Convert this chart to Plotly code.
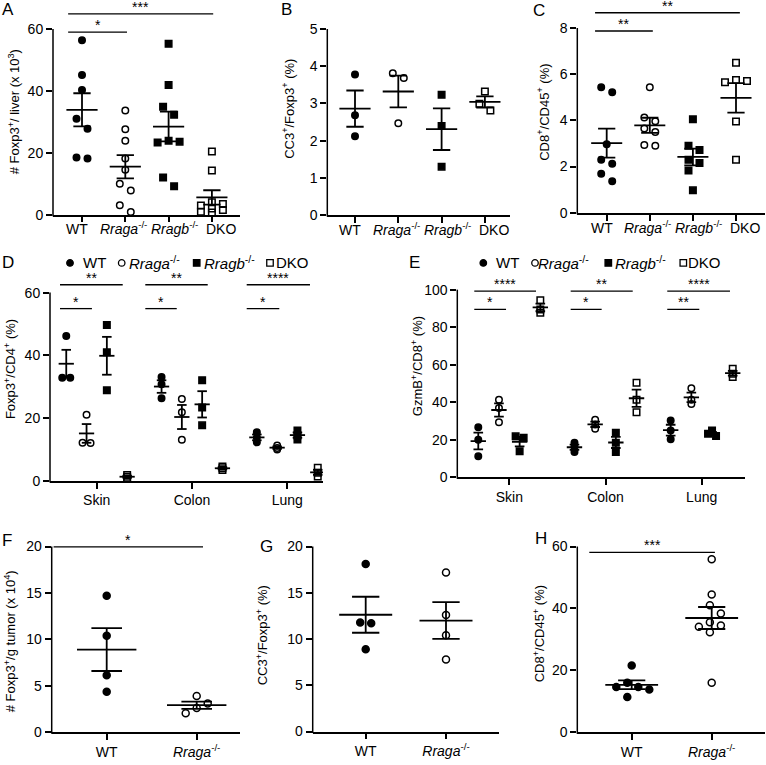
import numpy as np
import plotly.graph_objects as go

W, H = 766, 765
FONT = "Liberation Sans, Arial, sans-serif"

# ---------------- data ----------------
genotypes = ["WT", "Rraga-/-", "Rragb-/-", "DKO"]
geno_ticks = ["WT", "<i>Rraga</i><sup>-/-</sup>", "<i>Rragb</i><sup>-/-</sup>", "DKO"]
two_ticks = ["WT", "<i>Rraga</i><sup>-/-</sup>"]
tissues = ["Skin", "Colon", "Lung"]

# A: # Foxp3+ / liver (x10^3)
a_wt = [56.4, 45.1, 40.3, 31.0, 27.8, 18.5, 18.2]
a_rraga = [33.7, 27.6, 23.9, 18.2, 14.5, 10.0, 7.8, 3.1, 0.9]
a_rragb = [55.2, 41.9, 34.9, 32.3, 23.9, 23.6, 23.3, 12.0, 9.2]
a_dko = [20.4, 14.3, 4.0, 3.5, 3.0, 2.0, 1.5, 1.0, 0.7]
# B: CC3+/Foxp3+ (%)
b_wt = [3.78, 2.68, 2.12]
b_rraga = [3.81, 3.68, 2.47]
b_rragb = [3.23, 2.39, 1.30]
b_dko = [3.32, 2.99, 2.81]
# C: CD8+/CD45+ (%)
c_wt = [5.44, 5.22, 2.97, 2.29, 2.12, 1.69, 1.36]
c_rraga = [5.44, 4.12, 3.96, 3.65, 3.50, 2.93, 2.90]
c_rragb = [4.05, 2.90, 2.72, 2.29, 2.15, 1.83, 0.97]
c_dko = [6.50, 5.75, 5.70, 5.65, 3.95, 2.30]
# D: Foxp3+/CD4+ (%) per tissue (Skin, Colon, Lung)
d_wt = [[46.2, 32.9, 32.9], [33.1, 30.8, 26.3], [15.5, 13.8, 12.3]]
d_rraga = [[21.1, 12.2, 12.1], [26.1, 21.9, 13.1], [11.3, 10.5, 10.0]]
d_rragb = [[49.7, 41.0, 28.9], [32.1, 23.4, 17.7], [16.1, 14.5, 13.2]]
d_dko = [[1.9, 1.3, 0.8], [4.6, 4.0, 3.5], [4.2, 2.6, 1.4]]
# E: GzmB+/CD8+ (%)
e_wt = [[26.7, 20.0, 11.2], [18.4, 16.1, 13.5], [30.2, 24.9, 20.2]]
e_rraga = [[41.3, 36.9, 29.3], [30.7, 28.1, 25.8], [47.5, 41.3, 39.0]]
e_rragb = [[21.8, 21.1, 13.9], [23.7, 18.4, 13.5], [24.9, 23.2, 22.0]]
e_dko = [[94.4, 89.4, 87.7], [50.4, 41.3, 34.6], [57.8, 55.2, 53.4]]
# F: # Foxp3+/g tumor (x10^4)
f_wt = [14.7, 10.4, 6.15, 4.37]
f_rraga = [3.9, 3.09, 2.6, 2.06]
# G: CC3+/Foxp3+ (%)
g_wt = [18.1, 11.8, 11.7, 8.9]
g_rraga = [17.2, 12.6, 10.4, 7.8]
# H: CD8+/CD45+ (%)
h_wt = [21.6, 16.0, 14.6, 14.6, 13.8, 11.4]
h_rraga = [55.9, 44.5, 41.0, 38.4, 35.5, 34.5, 34.1, 32.3, 16.0]

# significance brackets: (x_start, x_end, y, label) in data units
sig_a = [(-0.32, 3.03, 64.9, "***"), (-0.32, 1.04, 59.0, "*")]
sig_c = [(-0.27, 3.09, 8.66, "**"), (-0.27, 1.07, 7.87, "**")]
sig_d = [(-0.385, 0.273, 62.5, "**"), (-0.385, -0.05, 54.9, "*"),
         (0.51, 1.165, 62.5, "**"), (0.51, 0.84, 54.9, "*"),
         (1.574, 2.238, 62.5, "****"), (1.574, 1.916, 54.9, "*")]
sig_e = [(-0.364, 0.278, 99.2, "****"), (-0.364, -0.034, 89.5, "*"),
         (0.638, 1.283, 99.2, "**"), (0.638, 0.96, 89.5, "*"),
         (1.642, 2.294, 99.2, "****"), (1.642, 1.975, 89.5, "**")]
sig_f = [(-0.59, 1.07, 19.96, "*")]
sig_h = [(-0.53, 1.04, 58.1, "***")]

SYMS = ["circle", "circle-open", "square", "square-open"]

# ---------------- layout geometry (pixels) ----------------
geoms = {
    "A": dict(left=53, right=240, y0=217, ytop=29.3, yval=60, dtop=4, cat0=82, sp=43.3),
    "B": dict(left=327.3, right=510, y0=217.3, ytop=29.3, yval=5, dtop=4, cat0=355, sp=43.3),
    "C": dict(left=577.3, right=765, y0=215, ytop=28.3, yval=8, dtop=4, cat0=606.7, sp=43.1),
    "D": dict(left=50, right=323, y0=486, ytop=295.7, yval=60, dtop=278, cat0=96.7, sp=95.3),
    "E": dict(left=457.3, right=745, y0=482.3, ytop=292.7, yval=100, dtop=278, cat0=509.3, sp=96.2),
    "F": dict(left=51.7, right=240, y0=740, ytop=552.3, yval=20, dtop=538, cat0=106.7, sp=90),
    "G": dict(left=312.7, right=499.3, y0=739.3, ytop=552.3, yval=20, dtop=538, cat0=365.7, sp=80.3),
    "H": dict(left=577.3, right=765, y0=740, ytop=552.3, yval=60, dtop=538, cat0=631.7, sp=80),
}
LABEL_SHIFT = [-5, -2, 6, 9]  # px nudges of crowded genotype labels (A-C)


def swarm(vals, ppu_y, ppu_x, dcoll, step, maxk):
    v = np.asarray(vals, float)
    order = np.argsort(-v, kind="stable")
    ys = v * ppu_y
    xs = np.zeros(len(v))
    placed = []
    cands = [0]
    for k in range(1, maxk + 1):
        cands += [k, -k]
    for i in order:
        best, bestd = 0.0, -1.0
        for k in cands:
            x = k * step
            d = min([np.hypot(x - xs[j], ys[i] - ys[j]) for j in placed], default=np.inf)
            if d >= dcoll:
                best = x
                break
            if d > bestd:
                best, bestd = x, d
        xs[i] = best
        placed.append(i)
    clusters, cur = [], [order[0]]
    for a, b in zip(order[:-1], order[1:]):
        if ys[a] - ys[b] < dcoll:
            cur.append(b)
        else:
            clusters.append(cur)
            cur = [b]
    clusters.append(cur)
    for c in clusters:
        xs[c] -= xs[c].mean()
    return xs / ppu_x


fig = go.Figure()
layout = dict(width=W, height=H, margin=dict(l=0, r=0, t=0, b=0),
              paper_bgcolor="white", plot_bgcolor="rgba(0,0,0,0)", showlegend=False,
              font=dict(family=FONT, color="black"))
shapes, annotations = [], []


def setup(n, key, tickvals, ticktext, ytickvals, label_annot=False):
    g = geoms[key]
    ppu = (g["y0"] - g["ytop"]) / g["yval"]
    xr = [(g["left"] - g["cat0"]) / g["sp"], (g["right"] - g["cat0"]) / g["sp"]]
    yr = [0, (g["y0"] - g["dtop"]) / ppu]
    xn = "xaxis" if n == 1 else f"xaxis{n}"
    yn = "yaxis" if n == 1 else f"yaxis{n}"
    xref = "x" if n == 1 else f"x{n}"
    yref = "y" if n == 1 else f"y{n}"
    layout[xn] = dict(domain=[g["left"] / W, g["right"] / W], range=xr, anchor=yref,
                      showline=True, linewidth=1.5, linecolor="black", ticks="outside",
                      ticklen=6, tickwidth=1.5, tickcolor="black", tickvals=tickvals,
                      ticktext=[""] * len(tickvals) if label_annot else ticktext,
                      showgrid=False, zeroline=False, tickangle=0,
                      tickfont=dict(size=14, color="black", family=FONT))
    layout[yn] = dict(domain=[1 - g["y0"] / H, 1 - g["dtop"] / H], range=yr, anchor=xref,
                      showline=False, ticks="outside", ticklen=6, tickwidth=1.5,
                      tickcolor="black", tickvals=ytickvals, showgrid=False, zeroline=False,
                      tickfont=dict(size=14, color="black", family=FONT))
    shapes.append(dict(type="line", xref="paper", yref="paper",
                       x0=g["left"] / W, x1=g["left"] / W,
                       y0=1 - (g["y0"] + 1.5) / H, y1=1 - g["ytop"] / H,
                       line=dict(color="black", width=1.5)))
    if label_annot:
        for i, (tv, tt) in enumerate(zip(tickvals, ticktext)):
            xp = g["cat0"] + tv * g["sp"] + LABEL_SHIFT[i]
            annotations.append(dict(xref="paper", yref="paper", x=xp / W,
                                    y=1 - (g["y0"] + 24) / H, text=tt, showarrow=False,
                                    xanchor="center", yanchor="bottom", borderpad=0,
                                    font=dict(size=14, color="black", family=FONT)))
    return xref, yref, ppu, g["sp"]


def add_groups(xref, yref, ppu, sp, groups, hw_mean, hw_cap, dcoll, step, maxk, msize):
    lx, ly = [], []
    for x, vals, sym in groups:
        off = swarm(vals, ppu, sp, dcoll, step, maxk)
        fig.add_trace(go.Scatter(
            x=x + off, y=vals, mode="markers", xaxis=xref, yaxis=yref, cliponaxis=False,
            marker=dict(symbol=sym, size=msize, color="black", line=dict(color="black", width=1.5)),
            hoverinfo="skip"))
        v = np.asarray(vals, float)
        m = v.mean()
        s = v.std(ddof=1) / np.sqrt(len(v))
        lx += [x - hw_mean, x + hw_mean, None, x - hw_cap, x + hw_cap, None,
               x - hw_cap, x + hw_cap, None, x, x, None]
        ly += [m, m, None, m + s, m + s, None, m - s, m - s, None, m - s, m + s, None]
    fig.add_trace(go.Scatter(x=lx, y=ly, mode="lines", xaxis=xref, yaxis=yref,
                             line=dict(color="black", width=1.8), hoverinfo="skip",
                             cliponaxis=False))


def add_sig(xref, yref, sigs):
    for x0, x1, y, lab in sigs:
        shapes.append(dict(type="line", xref=xref, yref=yref, x0=x0, x1=x1, y0=y, y1=y,
                           line=dict(color="black", width=1.3)))
        annotations.append(dict(xref=xref, yref=yref, x=(x0 + x1) / 2, y=y, text=lab,
                                showarrow=False, yanchor="bottom", yshift=-3,
                                font=dict(size=14, color="black", family=FONT)))


# ---- A, B, C ----
for n, key, data, sig, yt in [
    (1, "A", [a_wt, a_rraga, a_rragb, a_dko], sig_a, [0, 20, 40, 60]),
    (2, "B", [b_wt, b_rraga, b_rragb, b_dko], [], [0, 1, 2, 3, 4, 5]),
    (3, "C", [c_wt, c_rraga, c_rragb, c_dko], sig_c, [0, 2, 4, 6, 8]),
]:
    xr_, yr_, ppu, sp = setup(n, key, [0, 1, 2, 3], geno_ticks, yt, label_annot=True)
    groups = [(i, data[i], SYMS[i]) for i in range(4)]
    add_groups(xr_, yr_, ppu, sp, groups, 0.36, 0.2, 10.5, 11, 1, 6.5)
    add_sig(xr_, yr_, sig)

# ---- D, E ----
for n, key, data, sig, yt, gsp, dcoll in [
    (4, "D", [d_wt, d_rraga, d_rragb, d_dko], sig_d, [0, 20, 40, 60], 0.213, 1.5),
    (5, "E", [e_wt, e_rraga, e_rragb, e_dko], sig_e, [0, 20, 40, 60, 80, 100], 0.215, 3),
]:
    xr_, yr_, ppu, sp = setup(n, key, [0, 1, 2], tissues, yt)
    groups = []
    for t in range(3):
        for gi in range(4):
            groups.append((t + (gi - 1.5) * gsp, data[gi][t], SYMS[gi]))
    add_groups(xr_, yr_, ppu, sp, groups, 0.08, 0.05, dcoll, 8, 1, 6.5)
    add_sig(xr_, yr_, sig)

# ---- F, G, H ----
for n, key, data, sig, yt in [
    (6, "F", [f_wt, f_rraga], sig_f, [0, 5, 10, 15, 20]),
    (7, "G", [g_wt, g_rraga], [], [0, 5, 10, 15, 20]),
    (8, "H", [h_wt, h_rraga], sig_h, [0, 20, 40, 60]),
]:
    xr_, yr_, ppu, sp = setup(n, key, [0, 1], two_ticks, yt)
    groups = [(i, data[i], SYMS[i]) for i in range(2)]
    add_groups(xr_, yr_, ppu, sp, groups, 0.33, 0.17, 10, 11, 2, 7)
    add_sig(xr_, yr_, sig)

# ---- overlay pixel axis for legends ----
layout["xaxis9"] = dict(domain=[0, 1], range=[0, W], visible=False, anchor="y9", fixedrange=True)
layout["yaxis9"] = dict(domain=[0, 1], range=[H, 0], visible=False, anchor="x9", fixedrange=True)
leg_mx = [70, 121.7, 196.7, 270, 483.3, 535, 608.3, 683.3]
leg_tx = [82, 128, 203, 275, 495, 537, 614, 687]
leg_y = 265.7
fig.add_trace(go.Scatter(x=leg_mx, y=[leg_y] * 8, mode="markers", xaxis="x9", yaxis="y9",
                         cliponaxis=False, hoverinfo="skip",
                         marker=dict(symbol=SYMS * 2, size=6.5, color="black",
                                     line=dict(color="black", width=1.3))))
for i, x in enumerate(leg_tx):
    annotations.append(dict(xref="paper", yref="paper", x=x / W, y=1 - leg_y / H,
                            text=geno_ticks[i % 4], showarrow=False, xanchor="left",
                            yanchor="middle", borderpad=0,
                            font=dict(size=15, color="black", family=FONT)))

# ---- panel letters ----
letters = {"A": (7.5, 9.5), "B": (286.7, 9.5), "C": (539, 11), "D": (7.5, 265.5),
           "E": (414, 265.5), "F": (7, 546), "G": (266, 552.5), "H": (541, 544)}
for k, (x, y) in letters.items():
    annotations.append(dict(xref="paper", yref="paper", x=x / W, y=1 - y / H, text=k,
                            showarrow=False, xanchor="center", yanchor="middle",
                            font=dict(size=17, color="black", family=FONT)))

# ---- y-axis titles ----
titles = [
    ("# Foxp3<sup>+</sup>/ liver (x 10<sup>3</sup>)", 14, 113.5),
    ("CC3<sup>+</sup>/Foxp3<sup>+</sup> (%)", 288, 110),
    ("CD8<sup>+</sup>/CD45<sup>+</sup> (%)", 543, 114),
    ("Foxp3<sup>+</sup>/CD4<sup>+</sup> (%)", 10, 373),
    ("GzmB<sup>+</sup>/CD8<sup>+</sup> (%)", 417, 370),
    ("# Foxp3<sup>+</sup>/g tumor (x 10<sup>4</sup>)", 10, 648),
    ("CC3<sup>+</sup>/Foxp3<sup>+</sup> (%)", 262, 642),
    ("CD8<sup>+</sup>/CD45<sup>+</sup> (%)", 539, 641),
]
for t, x, y in titles:
    annotations.append(dict(xref="paper", yref="paper", x=x / W, y=1 - y / H, text=t,
                            showarrow=False, textangle=-90, xanchor="center",
                            yanchor="middle", font=dict(size=13, color="black", family=FONT)))

layout["shapes"] = shapes
layout["annotations"] = annotations
fig.update_layout(**layout)
fig.write_html("out.html", config={"displayModeBar": False},
               post_script="document.body.style.margin='0';")
